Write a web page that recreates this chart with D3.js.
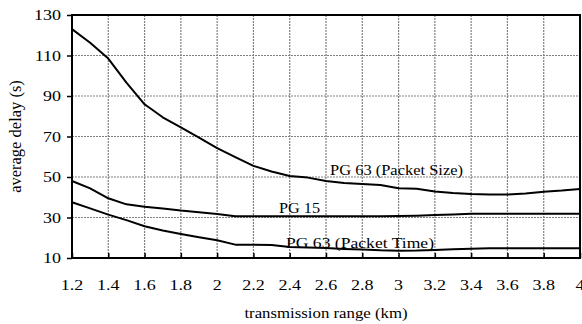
<!DOCTYPE html>
<html>
<head>
<meta charset="utf-8">
<script src="https://cdn.jsdelivr.net/npm/d3@7"></script>
<style>
  body { margin: 0; background: #fff; }
  text { font-family: "Liberation Serif", "Times New Roman", serif; fill: #000; }
</style>
</head>
<body>
<svg id="chart" width="582" height="324"></svg>
<script>
// Transmission range (km) for every sample
const ranges = [1.2, 1.3, 1.4, 1.5, 1.6, 1.7, 1.8, 1.9, 2.0, 2.1, 2.2, 2.3, 2.4, 2.5, 2.6,
                2.7, 2.8, 2.9, 3.0, 3.1, 3.2, 3.3, 3.4, 3.5, 3.6, 3.7, 3.8, 3.9, 4.0];

// Average delay (s) per protocol
const packetSize = [123, 116.3, 108.5, 96.6, 85.9, 79.5, 74.5, 69.5, 64.3, 59.8, 55.5, 52.7, 50.5, 49.7, 48,
                    47, 46.5, 46, 44.4, 44.2, 42.8, 42.1, 41.6, 41.4, 41.3, 41.9, 42.7, 43.3, 44.1];
const pg15 = [48, 44.4, 39.5, 36.5, 35.3, 34.5, 33.4, 32.6, 31.7, 30.6, 30.6, 30.6, 30.6, 30.6, 30.6,
              30.6, 30.6, 30.6, 30.7, 30.9, 31.2, 31.5, 31.8, 31.9, 31.9, 31.9, 31.9, 31.9, 31.9];
const packetTime = [37.5, 34.5, 31.4, 28.7, 25.7, 23.6, 21.8, 20.2, 18.8, 16.6, 16.5, 16.4, 15.4, 15.2, 14.9,
                    14.5, 14.2, 13.8, 13.6, 13.7, 14.0, 14.3, 14.6, 14.8, 14.8, 14.8, 14.8, 14.8, 14.8];

const seriesNames = ["PG 63 (Packet Size)", "PG 15", "PG 63 (Packet Time)"];

const xTicks = [1.2, 1.4, 1.6, 1.8, 2, 2.2, 2.4, 2.6, 2.8, 3, 3.2, 3.4, 3.6, 3.8, 4];
const yTicks = [10, 30, 50, 70, 90, 110, 130];

const xTitle = "transmission range (km)";
const yTitle = "average delay (s)";

const svg = d3.select("#chart");
const plotL = 72, plotR = 580, plotT = 15, plotB = 258;
const stretch = 1.2;

const x = d3.scaleLinear().domain([1.2, 4]).range([plotL, plotR]);
const y = d3.scaleLinear().domain([10, 130]).range([plotB, plotT]);

// Dotted grid
const grid = svg.append("g")
  .attr("stroke", "#808080").attr("stroke-width", 1.2).attr("stroke-dasharray", "2,1");
grid.selectAll("line.v").data(xTicks.slice(1, -1)).join("line").attr("class", "v")
  .attr("x1", d => x(d)).attr("x2", d => x(d)).attr("y1", plotT).attr("y2", plotB);
grid.selectAll("line.h").data(yTicks.slice(1, -1)).join("line").attr("class", "h")
  .attr("x1", plotL).attr("x2", plotR).attr("y1", d => y(d)).attr("y2", d => y(d));

// Axes
const xAxis = svg.append("g").attr("transform", `translate(0,${plotB})`)
  .call(d3.axisTop(x).tickValues(xTicks).tickSize(5).tickFormat(""));
const yAxis = svg.append("g").attr("transform", `translate(${plotL},0)`)
  .call(d3.axisLeft(y).tickValues(yTicks).tickSize(5).tickFormat(""));
[xAxis, yAxis].forEach(a => {
  a.select(".domain").remove();
  a.selectAll(".tick line").attr("stroke", "#000").attr("stroke-width", 1.5);
});

// Frame
svg.append("rect")
  .attr("x", plotL).attr("y", plotT).attr("width", plotR - plotL).attr("height", plotB - plotT)
  .attr("fill", "none").attr("stroke", "#000").attr("stroke-width", 2);

// Tick labels
svg.append("g").selectAll("text").data(xTicks).join("text")
  .attr("transform", d => `translate(${x(d)},290) scale(${stretch},1)`)
  .attr("text-anchor", "middle").attr("font-size", 15)
  .text(d => d);
svg.append("g").selectAll("text").data(yTicks).join("text")
  .attr("transform", d => `translate(61,${y(d) + 5}) scale(${stretch},1)`)
  .attr("text-anchor", "end").attr("font-size", 15)
  .text(d => d);

// Axis titles
svg.append("text")
  .attr("transform", `translate(${(plotL + plotR) / 2},318) scale(${stretch},1)`)
  .attr("text-anchor", "middle").attr("font-size", 14)
  .text(xTitle);
svg.append("text")
  .attr("transform", `translate(21,${(plotT + plotB) / 2}) rotate(-90)`)
  .attr("text-anchor", "middle").attr("font-size", 16.5)
  .text(yTitle);

// Series lines
const line = d3.line().x((d, i) => x(ranges[i])).y(d => y(d));
[packetSize, pg15, packetTime].forEach(s => {
  svg.append("path").datum(s)
    .attr("d", line)
    .attr("fill", "none").attr("stroke", "#000").attr("stroke-width", 2)
    .attr("stroke-linejoin", "round");
});

// Series labels
const labelPos = [[330, 175, 133], [279, 213, 41], [286, 248, 148]];
svg.append("g").selectAll("text").data(seriesNames).join("text")
  .attr("x", (d, i) => labelPos[i][0]).attr("y", (d, i) => labelPos[i][1])
  .attr("font-size", 14)
  .attr("textLength", (d, i) => labelPos[i][2]).attr("lengthAdjust", "spacingAndGlyphs")
  .text(d => d);
</script>
</body>
</html>
